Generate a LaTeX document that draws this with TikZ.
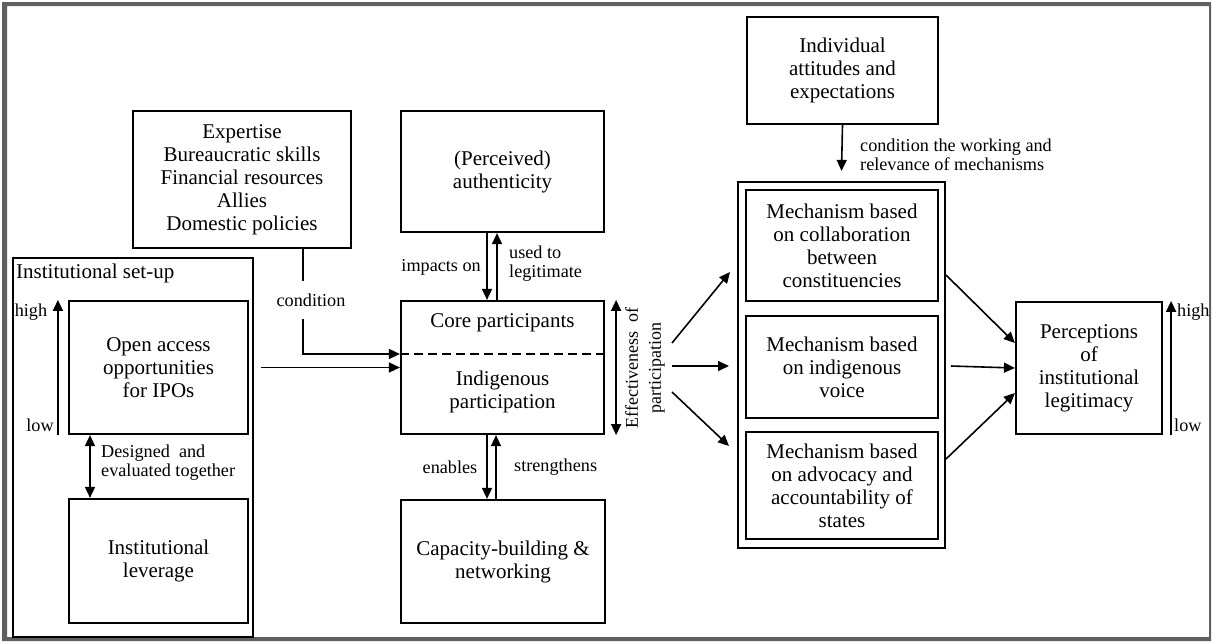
\documentclass[tikz,border=0pt]{standalone}
\usepackage{fontspec}
\setmainfont{Liberation Serif}
\usetikzlibrary{arrows.meta,calc}
\newcommand\boxfont{\fontsize{21}{23}\selectfont}
\newcommand\lblfont{\fontsize{18.2}{19}\selectfont}
\begin{document}
\begin{tikzpicture}[x=1pt,y=-1pt,
  box/.style={draw, line width=2.2pt, align=center, inner sep=0pt, font=\boxfont},
  txt/.style={align=center, inner sep=0pt, font=\boxfont},
  lbl/.style={inner sep=0pt, font=\lblfont},
  arr/.style={line width=1.6pt, -{Triangle[length=11pt,width=10pt]}},
  dbl/.style={line width=1.6pt, {Triangle[length=11pt,width=10pt]}-{Triangle[length=11pt,width=10pt]}},
  link/.style={line width=1.6pt}]
\useasboundingbox (0,0) rectangle (1212,643);
% outer gray frame
\fill[gray!75!black, even odd rule] (2,2) rectangle (1211,641) (7,6) rectangle (1209,637);

% left column
\node[box, minimum width=218pt, minimum height=137pt] (res) at (242,179.5)
  {Expertise\\Bureaucratic skills\\Financial resources\\Allies\\Domestic policies};
\node[box, minimum width=240pt, minimum height=379pt] (setup) at (133,447.5) {};
\node[txt, anchor=base west] (setuptitle) at (16,278) {Institutional set-up};
\node[box, minimum width=179pt, minimum height=133pt] (open) at (158.5,367.5)
  {Open access\\opportunities\\for IPOs};
\node[box, minimum width=179pt, minimum height=124pt] (lev) at (158.5,561)
  {Institutional\\leverage};

% high / low scale for access
\coordinate (lowL) at ([xshift=-10pt]open.south west);
\coordinate (highL) at ([xshift=-10pt]open.north west);
\draw[arr] (lowL) -- (highL);
\node[lbl] (highLt) at (31,312) {high};
\node[lbl] (lowLt) at (40,425) {low};

% designed together
\draw[dbl] ([xshift=-68.5pt]open.south) -- ([xshift=-68.5pt]open.south |- lev.north);
\node[lbl, anchor=west, align=left] (designed) at (101,463) {Designed\ \ and\\evaluated together};

% middle column
\node[box, minimum width=203pt, minimum height=121pt] (auth) at (502.5,171.5)
  {(Perceived)\\authenticity};
\node[box, minimum width=203pt, minimum height=133pt] (core) at (502.5,367.5) {};
\coordinate (cdivw) at ($(core.north west)!0.4!(core.south west)$);
\coordinate (cdive) at ($(core.north east)!0.4!(core.south east)$);
\draw[dashed, line width=1.5pt, dash pattern=on 9pt off 5pt] (cdivw) -- (cdive);
\node[txt] (coretxt) at (502.5,323) {Core participants};
\node[txt] (indtxt) at (502.5,392) {Indigenous\\participation};
\node[box, minimum width=204pt, minimum height=123pt] (cap) at (503,561.5)
  {Capacity-building \&\\networking};

% access and resources into participation
\draw[arr] ([xshift=12pt]open.east) -- (core.west |- open.east);
\draw[arr] ([xshift=61pt]res.south) |- (cdivw);
\node[lbl, fill=white, inner xsep=2pt, inner ysep=13pt] (cond) at (311,300) {condition};

% authenticity and capacity links
\draw[arr] ([xshift=-15.5pt]auth.south) -- ([xshift=-15.5pt]auth.south |- core.north);
\draw[arr] ([xshift=-5.5pt]core.north) -- ([xshift=-5.5pt]core.north |- auth.south);
\node[lbl, anchor=east] (impacts) at (481,267) {impacts on};
\node[lbl, anchor=west, align=left] (used) at (509,264) {used to\\legitimate};
\draw[arr] ([xshift=-15.5pt]core.south) -- ([xshift=-15.5pt]core.south |- cap.north);
\draw[arr] ([xshift=-6.5pt]core.south |- cap.north) -- ([xshift=-6.5pt]core.south);
\node[lbl] (enables) at (450,467) {enables};
\node[lbl, anchor=west] (strengthens) at (514,467) {strengthens};

% effectiveness scale
\draw[dbl] ([xshift=11pt]core.north east) -- ([xshift=11pt]core.south east);
\node[lbl, rotate=90, align=center, font=\fontsize{18}{23}\selectfont] (eff) at (645,368)
  {Effectiveness\ \ of\\participation};

% mechanisms
\node[box, minimum width=191pt, minimum height=107pt] (indiv) at (842.5,70.5)
  {Individual\\attitudes and\\expectations};
\node[box, minimum width=207pt, minimum height=366pt] (mech) at (841.5,365) {};
\node[box, minimum width=192pt, minimum height=111pt] (m1) at (842,245.5)
  {Mechanism based\\on collaboration\\between\\constituencies};
\node[box, minimum width=192pt, minimum height=102pt] (m2) at (842,367)
  {Mechanism based\\on indigenous\\voice};
\node[box, minimum width=192pt, minimum height=107pt] (m3) at (842,485.5)
  {Mechanism based\\on advocacy and\\accountability of\\states};
\draw[arr] (indiv.south) -- ([yshift=10pt]mech.north);
\node[lbl, anchor=west, align=left] (condwork) at (860,154.5)
  {condition the working and\\relevance of mechanisms};

% fan from participation to mechanisms
\coordinate (f1) at (672,343);
\coordinate (f2) at (672,366);
\coordinate (f3) at (672,392);
\coordinate (t1) at (730,272);
\coordinate (t2) at (729,366);
\coordinate (t3) at (729,446);
\draw[arr] (f1) -- (t1);
\draw[arr] (f2) -- (t2);
\draw[arr] (f3) -- (t3);

% legitimacy
\node[box, minimum width=146pt, minimum height=132pt] (perc) at (1089,368)
  {Perceptions\\of\\institutional\\legitimacy};
\coordinate (s1) at (946,275);
\coordinate (s2) at (951,366);
\coordinate (s3) at (946,459);
\draw[arr] (s1) -- ([yshift=25pt]perc.west);
\draw[arr] (s2) -- (perc.west);
\draw[arr] (s3) -- ([yshift=-25pt]perc.west);

% high / low scale for legitimacy
\draw[arr] ([xshift=8pt]perc.south east) -- ([xshift=8pt]perc.north east);
\node[lbl, anchor=west] (highR) at (1177,312) {high};
\node[lbl, anchor=west] (lowR) at (1174,425) {low};
\end{tikzpicture}
\end{document}
